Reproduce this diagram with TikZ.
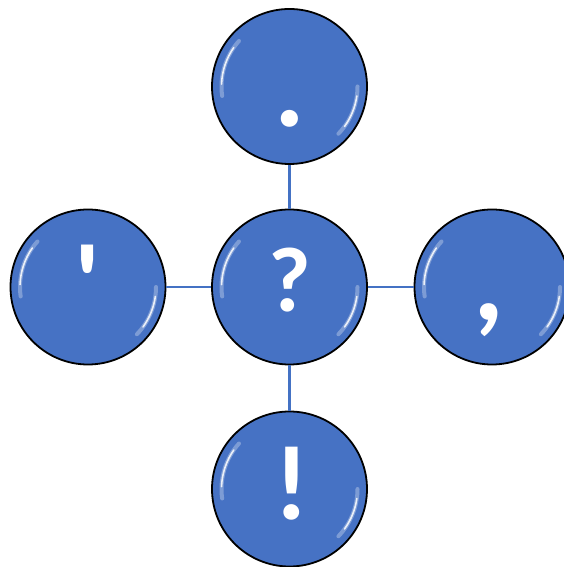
\documentclass[tikz,border=0pt]{standalone}
\usepackage{fontspec}
\newfontfamily\markfont{Carlito}
\usepackage{xcolor}
\usepackage{tikz}

\definecolor{bubbleblue}{RGB}{70,114,196}
\definecolor{linkblue}{RGB}{68,114,196}

\tikzset{
  bubble/.style={circle, draw=black, line width=1.8pt, fill=bubbleblue,
    minimum size=155pt, inner sep=0pt},
  glyph/.style={text=white, inner sep=0pt, anchor=base},
  link/.style={draw=linkblue, line width=2.4pt},
  shine/.style={white, line cap=round},
}

\begin{document}
\begin{tikzpicture}[x=1pt,y=1pt]
\useasboundingbox (0,0) rectangle (563,567);

% ==== Bubbles ====
\node[bubble] (qmark)  at (289.5,280)   {};
\node[bubble] (period) at (289.5,480.5) {};
\node[bubble] (apos)   at (88,280)      {};
\node[bubble] (comma)  at (492,280)     {};
\node[bubble] (exclam) at (289.5,78)    {};

% Connectors
\draw[link] (qmark) -- (period);
\draw[link] (qmark) -- (apos);
\draw[link] (qmark) -- (comma);
\draw[link] (qmark) -- (exclam);

% Glossy highlights
\foreach \b in {qmark,period,apos,comma,exclam} {
  \draw[shine, line width=4pt, opacity=0.3]
    ([shift={(138:68)}]\b.center) arc[start angle=138, end angle=188, radius=68];
  \draw[shine, line width=1.6pt, opacity=0.85]
    ([shift={(145:68)}]\b.center) arc[start angle=145, end angle=178, radius=68];
  \draw[shine, line width=4pt, opacity=0.3]
    ([shift={(0:68)}]\b.center) arc[start angle=0, end angle=-44, radius=68];
  \draw[shine, line width=1.6pt, opacity=0.85]
    ([shift={(-8:68)}]\b.center) arc[start angle=-8, end angle=-36, radius=68];
}

% Labels
\node[glyph, font=\markfont\bfseries\fontsize{92}{92}\selectfont]  (qtext) at (289.5,255) {?};
\node[glyph, font=\markfont\bfseries\fontsize{115}{115}\selectfont] (ptext) at (289.5,440) {.};
\node[glyph, font=\markfont\bfseries\fontsize{112}{112}\selectfont] (atext) at (88,245)    {'};
\node[glyph, font=\markfont\bfseries\fontsize{120}{120}\selectfont] (ctext) at (489,246)   {,};
\node[glyph, font=\markfont\bfseries\fontsize{106}{106}\selectfont] (etext) at (291.5,47)  {!};

\end{tikzpicture}
\end{document}
